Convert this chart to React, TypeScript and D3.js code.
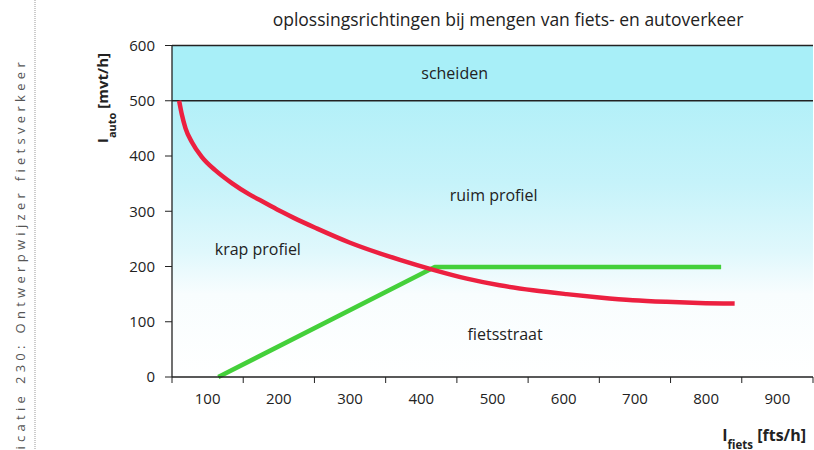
import * as d3 from 'd3'

const title = 'oplossingsrichtingen bij mengen van fiets- en autoverkeer'
const sideText = 'publicatie 230: Ontwerpwijzer fietsverkeer'

const xLabels = [100, 200, 300, 400, 500, 600, 700, 800, 900]
const xTickMarks = [50, 150, 250, 350, 450, 550, 650, 750, 850, 950]
const yTicks = [0, 100, 200, 300, 400, 500, 600]

// grens krap / ruim profiel
const redX = [60, 64, 69, 78, 92, 111, 134, 158, 181, 204, 221, 253, 300, 370, 417, 464, 510, 557, 604, 650, 697, 744, 790, 840]
const redY = [500, 474, 450, 425, 398, 374, 351, 331, 315, 299, 288, 269, 243, 212, 194, 178, 166, 157, 150, 144, 139, 136, 134, 133]

// grens fietsstraat
const greenX = [115, 419, 821]
const greenY = [0, 199, 199]

const scheidenLimit = 500

const regions = [
  { text: 'scheiden', x: 400, y: 540 },
  { text: 'ruim profiel', x: 440, y: 318 },
  { text: 'krap profiel', x: 110, y: 220 },
  { text: 'fietsstraat', x: 465, y: 67 },
]

const W = 814
const H = 450
const left = 172
const right = 813
const top = 45.5
const bottom = 377

export default function App() {
  const x = d3.scaleLinear().domain([50, 950]).range([left, right])
  const y = d3.scaleLinear().domain([0, 600]).range([bottom, top])

  const red =
    d3
      .line<[number, number]>()
      .x(d => x(d[0]))
      .y(d => y(d[1]))
      .curve(d3.curveMonotoneX)(redX.map((v, i) => [v, redY[i]])) ?? ''
  const green =
    d3
      .line<[number, number]>()
      .x(d => x(d[0]))
      .y(d => y(d[1]))(greenX.map((v, i) => [v, greenY[i]])) ?? ''

  const font = '"Open Sans", "Noto Sans", sans-serif'

  return (
    <svg
      width={W}
      height={H}
      style={{ position: 'absolute', left: 0, top: 0, background: '#fff' }}
      fontFamily={font}
    >
      <defs>
        <linearGradient id="bg" x1="0" y1="0" x2="0" y2="1">
          <stop offset="0%" stopColor="#b3f0f8" />
          <stop offset="30%" stopColor="#c6f3fa" />
          <stop offset="55%" stopColor="#e0f8fc" />
          <stop offset="70%" stopColor="#f8fdfe" />
          <stop offset="100%" stopColor="#ffffff" />
        </linearGradient>
      </defs>

      {/* zijtekst */}
      <line x1={35} x2={35} y1={0} y2={H} stroke="#999" strokeDasharray="1,1" />
      <text
        transform={`translate(25,58) rotate(-90)`}
        textAnchor="end"
        fontSize={13}
        letterSpacing={4.3}
        fill="#555"
      >
        {sideText}
      </text>

      <text x={508} y={26} textAnchor="middle" fontSize={17.5} fill="#222">
        {title}
      </text>

      {/* vlakken */}
      <rect x={left} y={y(scheidenLimit)} width={right - left} height={bottom - y(scheidenLimit)} fill="url(#bg)" />
      <rect x={left} y={top} width={right - left} height={y(scheidenLimit) - top} fill="#a8eff8" />

      <line x1={left} x2={right} y1={y(scheidenLimit)} y2={y(scheidenLimit)} stroke="#222" strokeWidth={1.3} />
      <line x1={left} x2={right} y1={top} y2={top} stroke="#222" strokeWidth={1.3} />

      {regions.map(r => (
        <text key={r.text} x={x(r.x)} y={y(r.y)} fontSize={16} fill="#222">
          {r.text}
        </text>
      ))}

      <path d={green} fill="none" stroke="#44d03a" strokeWidth={4.5} strokeLinejoin="round" />
      <path d={red} fill="none" stroke="#ec2040" strokeWidth={4.5} />

      {/* assen */}
      <line x1={left} x2={left} y1={top} y2={bottom} stroke="#222" strokeWidth={1.3} />
      <line x1={left} x2={right} y1={bottom} y2={bottom} stroke="#222" strokeWidth={1.3} />

      {yTicks.map(t => (
        <g key={t}>
          <line x1={left - 7} x2={left} y1={y(t)} y2={y(t)} stroke="#222" />
          <text x={left - 17} y={y(t)} dy="0.35em" textAnchor="end" fontSize={15} fill="#222">
            {t}
          </text>
        </g>
      ))}

      {xTickMarks.map(t => (
        <line key={t} x1={x(t)} x2={x(t)} y1={bottom} y2={bottom + 6} stroke="#222" />
      ))}
      {xLabels.map(t => (
        <text key={t} x={x(t)} y={bottom + 27} textAnchor="middle" fontSize={15} fill="#222">
          {t}
        </text>
      ))}

      <text
        transform={`translate(108,98) rotate(-90)`}
        textAnchor="middle"
        fontSize={15}
        fontWeight="bold"
        fill="#222"
      >
        I<tspan baselineShift="sub" fontSize={11}>auto</tspan>
        <tspan> [mvt/h]</tspan>
      </text>

      <text x={806} y={441} textAnchor="end" fontSize={16} fontWeight="bold" fill="#222">
        I<tspan baselineShift="sub" fontSize={11.5}>fiets</tspan>
        <tspan> [fts/h]</tspan>
      </text>
    </svg>
  )
}
